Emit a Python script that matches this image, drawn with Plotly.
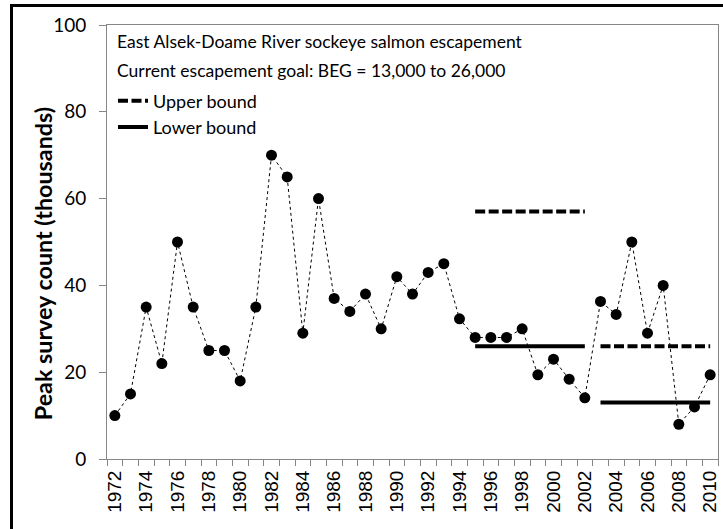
import plotly.graph_objects as go

years = list(range(1972, 2011))
counts = [10, 15, 35, 22, 50, 35, 25, 25, 18, 35,
          70, 65, 29, 60, 37, 34, 38, 30, 42, 38,
          43, 45, 32.3, 28, 28, 28, 30, 19.4, 23, 18.4,
          14.1, 36.3, 33.3, 50, 29, 40, 8, 12, 19.4]

upper_years = [1995, 2002, None, 2003, 2010]
upper_vals = [57, 57, None, 26, 26]
lower_years = [1995, 2002, None, 2003, 2010]
lower_vals = [26, 26, None, 13, 13]

tick_years = list(range(1972, 2011, 2))

W, H = 723, 529
L, R, T, B = 107, 718, 24.5, 459

fig = go.Figure()
fig.add_trace(go.Scatter(
    x=years, y=counts, mode="lines+markers",
    line=dict(color="black", width=1, dash="dot"),
    marker=dict(color="black", size=11),
    showlegend=False, name="Escapement"))
fig.add_trace(go.Scatter(
    x=upper_years, y=upper_vals, mode="lines", connectgaps=False,
    line=dict(color="black", width=4, dash="10px,3.5px"),
    name="Upper bound"))
fig.add_trace(go.Scatter(
    x=lower_years, y=lower_vals, mode="lines", connectgaps=False,
    line=dict(color="black", width=4),
    name="Lower bound"))

def px_x(p):
    return (p - L) / (R - L)

def px_y(p):
    return (B - p) / (B - T)

fig.update_layout(
    width=W, height=H,
    margin=dict(l=L, r=W - R, t=T, b=H - B, pad=0, autoexpand=False),
    paper_bgcolor="white", plot_bgcolor="white",
    font=dict(family="Lato", color="black"),
    xaxis=dict(
        range=[1971.5, 2010.5],
        tickmode="array", tickvals=tick_years,
        ticktext=[str(y) for y in tick_years],
        tickangle=-90, ticks="", ticklen=6, ticklabelstandoff=3,
        tickfont=dict(family="Liberation Sans", size=19, color="black"),
        showgrid=False, zeroline=False,
        showline=True, linecolor="#868686", linewidth=1, mirror=True,
        minor=dict(ticks="outside", tick0=1971.5, dtick=1, ticklen=6,
                   tickcolor="#868686", showgrid=False),
    ),
    yaxis=dict(
        range=[0, 100], dtick=20,
        ticks="outside", ticklen=7, tickcolor="#868686",
        ticklabelstandoff=9,
        tickfont=dict(family="Lato", size=19, color="black"),
        showgrid=False, zeroline=False,
        showline=True, linecolor="#868686", linewidth=1, mirror=True,
    ),
    legend=dict(
        x=px_x(113), y=px_y(82), xanchor="left", yanchor="top",
        bgcolor="rgba(0,0,0,0)", borderwidth=0,
        font=dict(family="Lato", size=18, color="black"),
        itemwidth=30, tracegroupgap=0,
    ),
    shapes=[
        dict(type="line", xref="paper", yref="paper",
             x0=px_x(11.5), x1=px_x(11.5), y0=px_y(529), y1=px_y(3.5),
             line=dict(color="black", width=3), layer="above"),
        dict(type="line", xref="paper", yref="paper",
             x0=px_x(10), x1=px_x(723), y0=px_y(5), y1=px_y(5),
             line=dict(color="black", width=3), layer="above"),
    ],
    annotations=[
        dict(text="East Alsek-Doame River sockeye salmon escapement",
             xref="paper", yref="paper", x=px_x(115), y=px_y(41.5),
             xanchor="left", yanchor="middle", showarrow=False,
             font=dict(family="Lato", size=17.5, color="black")),
        dict(text="Current escapement goal: BEG = 13,000 to 26,000",
             xref="paper", yref="paper", x=px_x(115), y=px_y(70),
             xanchor="left", yanchor="middle", showarrow=False,
             font=dict(family="Lato", size=17.5, color="black")),
        dict(text="<b>Peak survey count (thousands)</b>",
             xref="paper", yref="paper", x=px_x(43), y=px_y(264),
             xanchor="center", yanchor="middle", showarrow=False,
             textangle=-90,
             font=dict(family="Lato", size=23.3, color="black")),
    ],
)

fig.write_html(
    "out.html", config={"displayModeBar": False},
    post_script=("document.body.style.margin='0';"
                 "document.body.style.padding='0';"
                 "document.body.style.overflow='hidden';"
                 "document.body.style.background='white';"
                 "document.documentElement.style.background='white';"
                 "document.documentElement.style.overflow='hidden';"))
